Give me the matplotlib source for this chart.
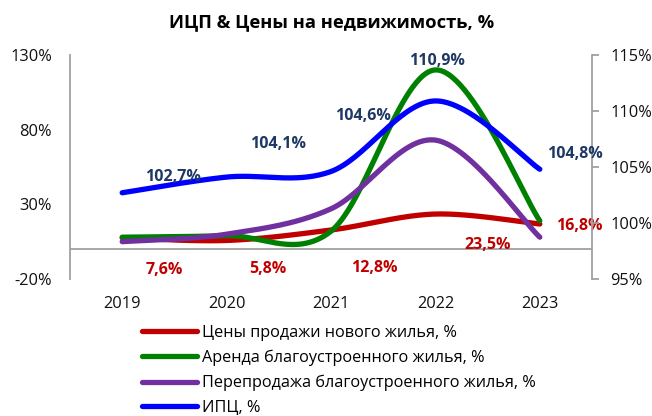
import numpy as np
import matplotlib
matplotlib.use("Agg")
import matplotlib.pyplot as plt

plt.rcParams['font.family'] = ['Open Sans', 'Liberation Sans', 'DejaVu Sans']

years = ["2019", "2020", "2021", "2022", "2023"]
new_prices = [7.6, 5.8, 12.8, 23.5, 16.8]       # Цены продажи нового жилья, % (left axis)
rent = [8.0, 9.0, 12.0, 120.0, 19.0]            # Аренда благоустроенного жилья, % (left axis)
resale = [5.0, 10.0, 27.0, 73.0, 8.0]           # Перепродажа благоустроенного жилья, % (left axis)
cpi = [102.7, 104.1, 104.6, 110.9, 104.8]       # ИПЦ, % (right axis)

new_labels = ["7,6%", "5,8%", "12,8%", "23,5%", "16,8%"]
cpi_labels = ["102,7%", "104,1%", "104,6%", "110,9%", "104,8%"]

left_ticks = [-20, 30, 80, 130]
right_ticks = [95, 100, 105, 110, 115]

names = ["Цены продажи нового жилья, %", "Аренда благоустроенного жилья, %",
         "Перепродажа благоустроенного жилья, %", "ИПЦ, %"]
colors = ["#C00000", "#008000", "#7030A0", "#0000FF"]


def smooth(y, n=60):
    """Catmull-Rom (Excel-like) smoothing through the data points."""
    y = np.asarray(y, float)
    x = np.arange(len(y), dtype=float)
    xs, ys = [], []
    for i in range(len(y) - 1):
        p0 = y[i - 1] if i > 0 else y[i]
        p1, p2 = y[i], y[i + 1]
        p3 = y[i + 2] if i + 2 < len(y) else y[i + 1]
        x0 = x[i - 1] if i > 0 else x[i]
        x3 = x[i + 2] if i + 2 < len(y) else x[i + 1]
        c1y = p1 + (p2 - p0) / 6
        c2y = p2 - (p3 - p1) / 6
        c1x = x[i] + (x[i + 1] - x0) / 6
        c2x = x[i + 1] - (x3 - x[i]) / 6
        t = np.linspace(0, 1, n)
        bx = (1 - t) ** 3 * x[i] + 3 * (1 - t) ** 2 * t * c1x + 3 * (1 - t) * t ** 2 * c2x + t ** 3 * x[i + 1]
        by = (1 - t) ** 3 * p1 + 3 * (1 - t) ** 2 * t * c1y + 3 * (1 - t) * t ** 2 * c2y + t ** 3 * p2
        xs.append(bx)
        ys.append(by)
    return np.concatenate(xs), np.concatenate(ys)


fig = plt.figure(figsize=(6.52, 4.16), dpi=100)
ax = fig.add_axes([70 / 652, 1 - 279 / 416, (592 - 70) / 652, (279 - 55) / 416])
ax2 = ax.twinx()

gray = "#A0A0A0"
lw = 3.8
handles = []
for series, c, name in zip([new_prices, rent, resale], colors[:3], names[:3]):
    sx, sy = smooth(series)
    h, = ax.plot(sx, sy, color=c, lw=lw, solid_capstyle='round', label=name, zorder=3)
    handles.append(h)
sx, sy = smooth(cpi)
h, = ax2.plot(sx, sy, color=colors[3], lw=lw, solid_capstyle='round', label=names[3], zorder=3)
handles.append(h)

ax.set_xlim(-0.5, 4.5)
ax.set_ylim(-20, 130)
ax.set_yticks(left_ticks)
ax.set_yticklabels([f"{v}%" for v in left_ticks])
ax2.set_ylim(95, 115)
ax2.set_yticks(right_ticks)
ax2.set_yticklabels([f"{v}%" for v in right_ticks])
ax.set_xticks(range(len(years)))
ax.set_xticklabels(years)

ax.axhline(0, color=gray, lw=1.3, zorder=2)
for a in (ax, ax2):
    for s in ("top", "bottom"):
        a.spines[s].set_visible(False)
ax.spines["right"].set_visible(False)
ax.spines["left"].set_color(gray)
ax.spines["left"].set_linewidth(1.3)
ax2.spines["left"].set_visible(False)
ax2.spines["right"].set_color(gray)
ax2.spines["right"].set_linewidth(1.3)

fs = 11.8
ax.tick_params(axis='y', length=0, pad=13, labelsize=fs, labelcolor='#111111')
ax.tick_params(axis='x', length=0, pad=12, labelsize=fs, labelcolor='#111111')
ax2.tick_params(axis='y', length=5, width=1.3, color=gray, pad=8, labelsize=fs, labelcolor='#111111')

# data labels
lfs = 11.5
blue_off = [(51, 16), (51, 33), (32, 55), (2, 40), (35, 15)]
red_off = [(42, -32), (41, -29), (43, -38), (52, -31), (39, -2)]
for i, (lab, off) in enumerate(zip(cpi_labels, blue_off)):
    ax2.annotate(lab, (i, cpi[i]), xytext=off, textcoords='offset pixels',
                 ha='center', va='center', fontsize=lfs, fontweight='bold', color='#1F3864', zorder=5)
for i, (lab, off) in enumerate(zip(new_labels, red_off)):
    ax.annotate(lab, (i, new_prices[i]), xytext=off, textcoords='offset pixels',
                ha='center', va='center', fontsize=lfs, fontweight='bold', color='#C00000', zorder=5,
                annotation_clip=False)

fig.text(332 / 652, 1 - 22 / 416, "ИЦП & Цены на недвижимость, %", ha='center', va='center',
         fontsize=13.2, fontweight='bold')

fig.legend(handles=handles, labels=names, loc='upper left', bbox_to_anchor=(142 / 652, 1 - 325 / 416),
           frameon=False, fontsize=11.7, handlelength=3.4, handletextpad=0.3, labelspacing=0.54,
           borderpad=0, borderaxespad=0)

fig.savefig("out.png", dpi=100)
